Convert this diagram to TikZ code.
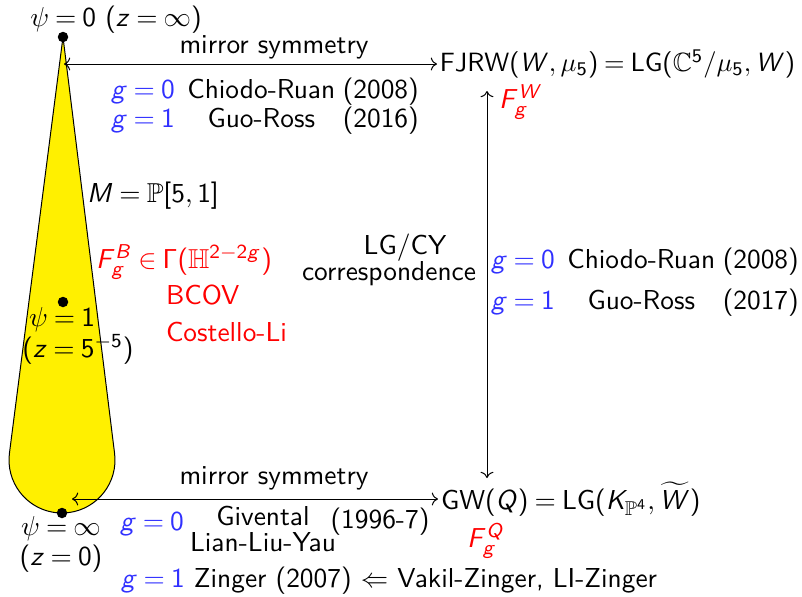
\documentclass[11pt,tikz,border=0pt]{standalone}
\usepackage{amsmath, amssymb}
\usetikzlibrary{positioning, calc, arrows.meta}
\renewcommand{\familydefault}{\sfdefault}
% sans serif letters and digits in formulas
\DeclareSymbolFont{sfletters}{OT1}{cmss}{m}{sl}
\SetSymbolFont{operators}{normal}{OT1}{cmss}{m}{n}
\makeatletter
\@tfor\ltr:=abcdefghijklmnopqrstuvwxyzABCDEFGHIJKLMNOPQRSTUVWXYZ\do{%
  \mathcode\expandafter`\ltr=\numexpr"7000+\symsfletters*256+\expandafter`\ltr\relax}
\makeatother
\thickmuskip=4mu plus 2mu
\definecolor{GenusBlue}{HTML}{3030FF}
\definecolor{ConeYellow}{HTML}{FFF000}
\tikzset{
    dot/.style={circle, fill=black, inner sep=0pt, minimum size=4.2pt},
    label/.style={inner sep=1pt},
    redlabel/.style={inner sep=1pt, text=red},
    genus/.style={inner sep=1pt, text=GenusBlue},
    mirror/.style={<->, thin, color=black},
}
\newcommand{\gb}[1]{\textcolor{GenusBlue}{$g=#1$}}
\begin{document}
\begin{tikzpicture}[x=0.40pt, y=0.40pt]
    \useasboundingbox (0,0) rectangle (802,-596);

    % Cone (moduli space) with round bottom
    \coordinate (apex) at (63,-37);
    \coordinate (centre) at (62,-460);
    \fill[ConeYellow, draw=black, thin] (apex) -- ($(centre)+(7.2:53)$)
        arc[start angle=7.2, end angle=-187.2, radius=53] -- cycle;

    % Special points
    \node[dot] (psizero) at (apex) {};
    \node[dot] (psione) at (63,-302) {};
    \node[dot] (psiinf) at (62,-513) {};
    \node[label] (psizerolbl) at (116,-20) {$\psi=0\ (z=\infty)$};
    \node[label] (psionelbl) at (62,-320) {$\psi=1$};
    \node[label] (psionez) at (78,-349) {$(z=5^{-5})$};
    \node[label] (psiinflbl) at (61,-529) {$\psi=\infty$};
    \node[label] (psiinfz) at (61,-559) {$(z=0)$};
    \node[label] (moduli) at (153,-196) {$M=\mathbb{P}[5,1]$};

    % B-model
    \node[redlabel] (fgb) at (184,-262) {$F_g^B\in\Gamma(\mathbb{H}^{2-2g})$};
    \node[redlabel, align=left, anchor=north west] (bcov) at (163,-282)
        {BCOV\\[1pt]Costello-Li};

    % A-model sides
    \node[label, anchor=west, scale=0.965, transform shape] (fjrw) at (437,-64)
        {FJRW$(W,\mu_5)=\mathrm{LG}(\mathbb{C}^5/\mu_5,W)$};
    \node[label, anchor=west] (gw) at (438,-499)
        {GW$(Q)=\mathrm{LG}(K_{\mathbb{P}^4},\widetilde{W})$};
    \node[redlabel] (fgw) at (521,-102) {$F_g^W$};
    \node[redlabel] (fgq) at (486,-541) {$F_g^Q$};

    % Mirror symmetry arrows
    \coordinate (toptip) at (64,-64);
    \coordinate (bottip) at (72,-499);
    \draw[mirror] (toptip) -- (fjrw.west);
    \draw[mirror] (bottip) -- (gw.west);
    \node[label] (mirrortop) at (274,-47) {mirror symmetry};
    \node[label] (mirrorbot) at (274,-478) {mirror symmetry};

    % LG/CY correspondence
    \coordinate (lgcytop) at (487,-91);
    \coordinate (lgcybot) at (487,-478);
    \draw[mirror] (lgcytop) -- (lgcybot);
    \node[label] (lgcy) at (405,-248) {LG/CY};
    \node[label] (corr) at (389,-274) {correspondence};

    % Results
    \node[label, anchor=west] (toprefs) at (108,-106) {%
        \begin{tabular}{@{}l@{\hspace{5pt}}c@{\hspace{3pt}}c@{}}
        \gb{0} & Chiodo-Ruan & (2008)\\[-2pt]
        \gb{1} & Guo-Ross & (2016)
        \end{tabular}};
    \node[label, anchor=west] (rightrefs) at (488,-282) {%
        \begin{tabular}{@{}l@{\hspace{5pt}}c@{\hspace{3pt}}c@{}}
        \gb{0} & Chiodo-Ruan & (2008)\\[3pt]
        \gb{1} & Guo-Ross & (2017)
        \end{tabular}};
    \node[genus] (gzero) at (152,-524) {$g=0$};
    \node[label, align=center] (givental) at (263,-529) {Givental\\[-3pt]Lian-Liu-Yau};
    \node[label] (year) at (380,-522) {(1996-7)};
    \node[label, anchor=west] (zinger) at (118,-581)
        {\gb{1} Zinger (2007) $\Leftarrow$ Vakil-Zinger, LI-Zinger};
\end{tikzpicture}
\end{document}
